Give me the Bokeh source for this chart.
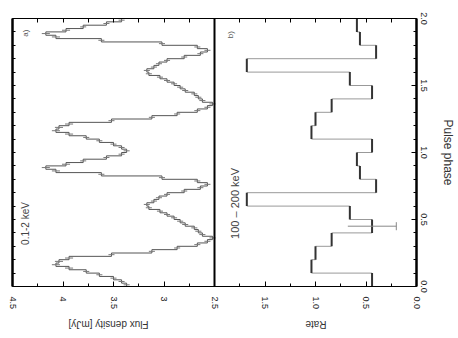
import numpy as np
from bokeh.plotting import figure
from bokeh.models import Range1d, LinearAxis, FixedTicker, Label, Span
from bokeh.embed import file_html
from bokeh.resources import INLINE

# ---- data (one pulse cycle, plotted twice) ----
left_flux = [3.37, 3.42, 3.50, 3.64, 3.77, 3.94, 4.07, 4.04, 3.94, 3.52,
             3.12, 2.87, 2.67, 2.57, 2.52, 2.62, 2.66, 2.70, 2.79, 2.84,
             2.90, 2.97, 3.04, 3.15, 3.17, 3.10, 3.05, 2.97, 2.80, 2.64,
             2.57, 2.67, 3.02, 3.62, 4.07, 4.17, 3.97, 3.80, 3.57, 3.42]
left_err = [0.03, 0.03, 0.03, 0.03, 0.03, 0.04, 0.04, 0.04, 0.04, 0.03,
            0.03, 0.03, 0.03, 0.03, 0.03, 0.03, 0.03, 0.03, 0.03, 0.03,
            0.03, 0.03, 0.03, 0.03, 0.03, 0.03, 0.03, 0.03, 0.03, 0.03,
            0.03, 0.03, 0.03, 0.03, 0.04, 0.04, 0.04, 0.03, 0.03, 0.03]
right_rate = [0.44, 1.04, 1.00, 0.84, 0.44, 0.66, 1.68, 0.40, 0.56, 0.59]
right_err_phase = [0.45]
right_err_rate = [0.44]
right_err_size = [0.24]
n_cycles = 2

flux_range = (4.5, 2.5)          # left panel, high flux on the left
rate_range = (2.0, 0.0)          # right panel
flux_ticks = [4.5, 4.0, 3.5, 3.0, 2.5]
flux_tick_labels = ["4.5", "4", "3.5", "3", "2.5"]
flux_minor = [4.25, 3.75, 3.25, 2.75]
rate_ticks = [1.5, 1.0, 0.5, 0.0]
rate_tick_labels = ["1.5", "1.0", "0.5", "0.0"]
rate_minor = [1.75, 1.25, 0.75, 0.25]
phase_ticks = [0.0, 0.5, 1.0, 1.5, 2.0]
phase_tick_labels = ["0.0", "0.5", "1.0", "1.5", "2.0"]

left_band = "0.1-2 keV"
right_band = "100 \u2013 200 keV"
left_ylabel = "Flux density [mJy]"
right_ylabel = "Rate"
xlabel = "Pulse phase"

FONT = "Liberation Sans"

# The two panels share one frame: the primary x range continues the flux
# scale, the extra "rate" range has the same pixel scale for the right half.
span_flux = flux_range[0] - flux_range[1]
span_rate = rate_range[0] - rate_range[1]
x_primary = Range1d(flux_range[0], flux_range[1] - span_rate)
x_rate = Range1d(rate_range[0] + span_flux, rate_range[1])
offset = flux_range[1] - rate_range[0]   # rate value -> primary coordinate


def to_primary(r):
    return r + offset


phase_minor = [round(v, 2) for v in np.arange(0.1, 2.0, 0.1)
               if abs(v * 2 - round(v * 2)) > 1e-6]

p = figure(width=458, height=338, x_range=x_primary, y_range=Range1d(0, 2),
           output_backend="svg", toolbar_location=None,
           x_axis_location=None, y_axis_location=None,
           min_border_left=12, min_border_right=42, min_border_top=18, min_border_bottom=50)
p.extra_x_ranges = {"rate": x_rate}
p.outline_line_color = None
p.grid.grid_line_color = None


def style_ticks(ax, lw=1.0, tin=5, minin=3):
    ax.axis_line_width = lw
    ax.axis_line_color = "black"
    ax.major_tick_in = tin
    ax.major_tick_out = 0
    ax.minor_tick_in = minin
    ax.minor_tick_out = 0
    ax.major_tick_line_color = "black"
    ax.minor_tick_line_color = "black"


# bottom axis with tick labels of both panels
bt = flux_ticks + [to_primary(r) for r in rate_ticks]
bl = flux_tick_labels + rate_tick_labels
bm = flux_minor + [to_primary(r) for r in rate_minor]
ax_b = LinearAxis(ticker=FixedTicker(ticks=bt, minor_ticks=bm))
style_ticks(ax_b)
ax_b.major_label_overrides = {t: l for t, l in zip(bt, bl)}
ax_b.major_label_orientation = "vertical"
ax_b.major_label_text_font = FONT
ax_b.major_label_text_font_size = "9px"
ax_b.major_label_text_color = "#222222"
ax_b.major_label_standoff = 10
p.add_layout(ax_b, "below")

# bottom titles (upside down, as in the rotated original)
title_pos = [3.945, 1.60]
ax_t = LinearAxis(ticker=FixedTicker(ticks=title_pos, minor_ticks=[]))
ax_t.axis_line_color = None
ax_t.major_tick_line_color = None
ax_t.minor_tick_line_color = None
ax_t.major_label_overrides = {title_pos[0]: left_ylabel, title_pos[1]: right_ylabel}
ax_t.major_label_orientation = np.pi
ax_t.major_label_text_font = FONT
ax_t.major_label_text_font_size = "10px"
ax_t.major_label_text_color = "#333333"
ax_t.major_label_standoff = 6
p.add_layout(ax_t, "below")

# top border: ticks only
ax_top = LinearAxis(ticker=FixedTicker(ticks=[], minor_ticks=bt + bm))
style_ticks(ax_top, lw=1.0, minin=4)
p.add_layout(ax_top, "above")

# left border (thick), ticks only
ax_l = LinearAxis(ticker=FixedTicker(ticks=[], minor_ticks=phase_ticks + phase_minor))
style_ticks(ax_l, lw=2.5, minin=3)
ax_l.major_label_standoff = 0
p.add_layout(ax_l, "left")

# right: pulse phase axis
ax_r = LinearAxis(ticker=FixedTicker(ticks=phase_ticks, minor_ticks=phase_minor))
style_ticks(ax_r, lw=2.5, tin=5, minin=3)
ax_r.major_label_overrides = {t: l for t, l in zip(phase_ticks, phase_tick_labels)}
ax_r.major_label_orientation = "vertical"
ax_r.major_label_text_font = FONT
ax_r.major_label_text_font_size = "9px"
ax_r.major_label_text_color = "#222222"
ax_r.major_label_standoff = 4
p.add_layout(ax_r, "right")

ax_r2 = LinearAxis(ticker=FixedTicker(ticks=[1.0], minor_ticks=[]))
ax_r2.axis_line_color = None
ax_r2.major_tick_line_color = None
ax_r2.minor_tick_line_color = None
ax_r2.major_label_overrides = {1.0: xlabel}
ax_r2.major_label_orientation = "vertical"
ax_r2.major_label_text_font = FONT
ax_r2.major_label_text_font_size = "12px"
ax_r2.major_label_text_color = "#333333"
ax_r2.major_label_standoff = 5
p.add_layout(ax_r2, "right")

# middle border between the panels
p.add_layout(Span(location=flux_range[1], dimension="height",
                  line_color="black", line_width=2))

# ---- left panel: step profile with error bars ----
nb = len(left_flux)
edges = np.linspace(0.0, 1.0, nb + 1)
xs, ys = [], []
for c in range(n_cycles):
    for i, v in enumerate(left_flux):
        xs += [v, v]
        ys += [edges[i] + c, edges[i + 1] + c]
p.line(xs, ys, line_color="#555555", line_width=1)

centers = (np.arange(nb) + 0.5) / nb
f = np.array(left_flux)
e = np.array(left_err)
for c in range(n_cycles):
    p.segment(x0=f - e, x1=f + e, y0=centers + c, y1=centers + c,
              line_color="#777777", line_width=1)

# ---- right panel: coarse histogram ----
nr = len(right_rate)
redges = np.linspace(0.0, 1.0, nr + 1)
allv = right_rate * n_cycles
lv_x, lv_y0, lv_y1, tr_x0, tr_x1, tr_y = [], [], [], [], [], []
for k, v in enumerate(allv):
    c, i = divmod(k, nr)
    lv_x.append(v)
    lv_y0.append(redges[i] + c)
    lv_y1.append(redges[i + 1] + c)
    if k + 1 < len(allv):
        tr_x0.append(v)
        tr_x1.append(allv[k + 1])
        tr_y.append(redges[i + 1] + c)
p.segment(x0=tr_x0, x1=tr_x1, y0=tr_y, y1=tr_y, line_color="#999999",
          line_width=1, x_range_name="rate")
p.segment(x0=lv_x, x1=lv_x, y0=lv_y0, y1=lv_y1, line_color="#333333",
          line_width=2, x_range_name="rate")

er = np.array(right_err_rate)
es = np.array(right_err_size)
ep = np.array(right_err_phase)
p.segment(x0=er - es, x1=er + es, y0=ep, y1=ep, line_color="#888888",
          line_width=1, x_range_name="rate")
p.segment(x0=er - es, x1=er - es, y0=ep - 0.03, y1=ep + 0.03,
          line_color="#888888", line_width=1, x_range_name="rate")

# ---- panel annotations ----
p.add_layout(Label(x=4.37, y=0.47, text=left_band, angle=np.pi / 2,
                   text_align="center", text_baseline="middle",
                   text_font=FONT, text_font_size="10px", text_color="#444444"))
p.add_layout(Label(x=4.37, y=1.89, text="a)", angle=np.pi / 2,
                   text_align="center", text_baseline="middle",
                   text_font=FONT, text_font_size="8px", text_color="#555555"))
p.add_layout(Label(x=1.80, y=0.62, text=right_band, angle=np.pi / 2,
                   x_range_name="rate",
                   text_align="center", text_baseline="middle",
                   text_font=FONT, text_font_size="11px", text_color="#444444"))
p.add_layout(Label(x=1.84, y=1.88, text="b)", angle=np.pi / 2,
                   x_range_name="rate",
                   text_align="center", text_baseline="middle",
                   text_font=FONT, text_font_size="8px", text_color="#555555"))

open("out.html", "w").write(file_html(p, INLINE))
